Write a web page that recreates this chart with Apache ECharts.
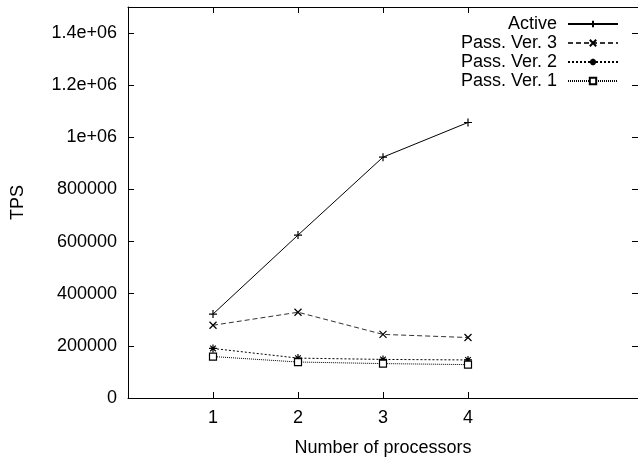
<!DOCTYPE html>
<html>
<head>
<meta charset="utf-8">
<script src="https://cdn.jsdelivr.net/npm/echarts@6/dist/echarts.min.js"></script>
<style>html,body{margin:0;padding:0;background:#fff}#c{width:638px;height:457px}</style>
</head>
<body>
<div id="c"></div>
<script>
const processors = [1, 2, 3, 4];
const seriesNames = ['Active', 'Pass. Ver. 3', 'Pass. Ver. 2', 'Pass. Ver. 1'];
const active = [322000, 625000, 924000, 1057000];
const passVer3 = [279000, 329000, 244000, 232000];
const passVer2 = [190000, 153000, 148000, 146000];
const passVer1 = [159000, 138000, 132000, 128000];
const yTicks = [0, 200000, 400000, 600000, 800000, 1000000, 1200000, 1400000];
const xTicks = [1, 2, 3, 4];

const FONT = '"Liberation Sans", Arial, Helvetica, sans-serif';
const FS = 18;
function yFmt(v) {
  if (v >= 1000000) return (v / 1000000) + 'e+06';
  return String(v);
}
function pairs(vals) { return processors.map((p, i) => [p, vals[i]]); }

const plus = 'path://M0,5L10,5M5,0L5,10';
const cross = 'path://M0,0L10,10M10,0L0,10';
const star = 'path://M0,5L10,5M5,0L5,10M1.5,1.5L8.5,8.5M8.5,1.5L1.5,8.5';

function mk(name, vals, symbol, size, dash, width, fill, lineColor) {
  return {
    name: name,
    type: 'line',
    data: pairs(vals),
    symbol: symbol,
    symbolSize: size,
    showAllSymbol: true,
    lineStyle: { color: lineColor, width: width, type: dash },
    itemStyle: { color: fill, borderColor: '#000', borderWidth: 1.2 },
    emphasis: { disabled: true },
    animation: false,
    z: 3
  };
}

const chart = echarts.init(document.getElementById('c'), null, { renderer: 'canvas' });
chart.setOption({
  animation: false,
  backgroundColor: '#fff',
  textStyle: { fontFamily: FONT, color: '#000' },
  grid: { left: 128, right: 0, top: 7, bottom: 59, containLabel: false, outerBoundsMode: 'none' },
  legend: {
    orient: 'vertical',
    right: 14,
    top: 10,
    align: 'right',
    itemWidth: 50,
    itemHeight: 8,
    itemGap: 1,
    data: seriesNames,
    textStyle: { fontFamily: FONT, fontSize: FS, color: '#000', padding: [0, 6, 0, 0] },
    selectedMode: false
  },
  xAxis: [{
    type: 'value', min: 0, max: 6, interval: 1,
    name: 'Number of processors', nameLocation: 'middle', nameGap: 41,
    nameTextStyle: { fontFamily: FONT, fontSize: FS, color: '#000' },
    axisLine: { show: true, lineStyle: { color: '#000', width: 1 } },
    axisTick: { show: true, inside: true, length: 6, customValues: xTicks, lineStyle: { color: '#000' } },
    axisLabel: { customValues: xTicks, margin: 11, fontFamily: FONT, fontSize: FS, color: '#000' },
    splitLine: { show: false }
  }, {
    type: 'value', min: 0, max: 6, interval: 1, position: 'top', show: true,
    axisLine: { show: true, onZero: false, lineStyle: { color: '#000', width: 1 } },
    axisTick: { show: true, inside: true, length: 6, customValues: xTicks, lineStyle: { color: '#000' } },
    axisLabel: { show: false },
    splitLine: { show: false }
  }],
  yAxis: [{
    type: 'value', min: 0, max: 1500000, interval: 100000,
    name: 'TPS', nameLocation: 'middle', nameGap: 101, nameRotate: 90,
    nameTextStyle: { fontFamily: FONT, fontSize: FS, color: '#000' },
    axisLine: { show: true, lineStyle: { color: '#000', width: 1 } },
    axisTick: { show: true, inside: true, length: 6, customValues: yTicks, lineStyle: { color: '#000' } },
    axisLabel: { customValues: yTicks, formatter: yFmt, margin: 11, fontFamily: FONT, fontSize: FS, color: '#000' },
    splitLine: { show: false }
  }, {
    type: 'value', min: 0, max: 1500000, interval: 100000, position: 'right', show: true,
    axisLine: { show: true, onZero: false, lineStyle: { color: '#000', width: 1 } },
    axisTick: { show: true, inside: true, length: 6, customValues: yTicks, lineStyle: { color: '#000' } },
    axisLabel: { show: false },
    splitLine: { show: false }
  }],
  series: [
    mk(seriesNames[0], active, plus, 8, 'solid', 1, 'none', '#000'),
    mk(seriesNames[1], passVer3, cross, 7, [5, 3], 1, 'none', '#333'),
    mk(seriesNames[2], passVer2, star, 8, [2, 2], 1, 'none', '#000'),
    mk(seriesNames[3], passVer1, 'rect', 7, [1, 1], 1, '#fff', '#000'),
    { type: 'line', xAxisIndex: 1, yAxisIndex: 1, data: [], silent: true }
  ]
});
</script>
</body>
</html>
